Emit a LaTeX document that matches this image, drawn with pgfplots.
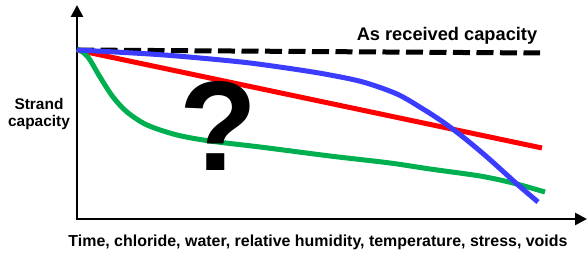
\documentclass[border=0pt]{standalone}
\usepackage{pgfplots}
\pgfplotsset{compat=1.18}
\usepackage{fontspec}
\setmainfont{Liberation Sans}
\usetikzlibrary{arrows.meta}
\definecolor{cred}{RGB}{255,0,0}
\definecolor{cblue}{RGB}{60,60,255}
\definecolor{cgreen}{RGB}{0,176,80}
\begin{document}
\begin{tikzpicture}
\useasboundingbox (0,0) rectangle (587bp,254bp);
\begin{axis}[
  at={(0,0)}, anchor=south west,
  scale only axis, width=587bp, height=254bp,
  xmin=0, xmax=587, ymin=0, ymax=254, y dir=reverse,
  axis lines=none, ticks=none, clip=false,
]
% axes
\addplot[black, line width=2.6bp, -{Triangle[length=12bp,width=12bp]}] coordinates {(77,219) (77,5)};
\addplot[black, line width=2.6bp, -{Triangle[length=12bp,width=12bp]}] coordinates {(75.7,219) (587,219)};
% as received
\addplot[black, line width=5bp, dash pattern=on 17bp off 6.5bp] coordinates {(77,50) (540,53)};
% red
\addplot[cred, line width=5bp] coordinates {(77,50) (542,148)};
% green
\addplot[cgreen, line width=5bp, smooth] coordinates {
(77,49) (84,53) (90,60) (100,77) (113,97) (127,112) (147,125) (177,135) (210,141) (260,147) (330,156) (390,163) (430,169) (480,176) (513,183) (545,192)};
% blue
\addplot[cblue, line width=5bp, smooth] coordinates {
(77,50) (150,54) (200,58) (250,63) (300,70) (330,75) (363,82) (397,94) (423,109) (443,122) (463,137) (487,157) (517,184) (538,202)};
\node[font=\bfseries\fontsize{128}{128}\selectfont, inner sep=0pt] at (axis cs:218,126) {?};
\node[font=\bfseries\fontsize{15.5}{18}\selectfont, align=center, inner sep=0pt] at (axis cs:39,114) {Strand\\capacity};
\node[font=\bfseries\fontsize{18.3}{20}\selectfont, inner sep=0pt] at (axis cs:447,36) {As received capacity};
\node[font=\bfseries\fontsize{16}{18}\selectfont, inner sep=0pt] at (axis cs:318,242) {Time, chloride, water, relative humidity, temperature, stress, voids};
\end{axis}
\end{tikzpicture}
\end{document}
